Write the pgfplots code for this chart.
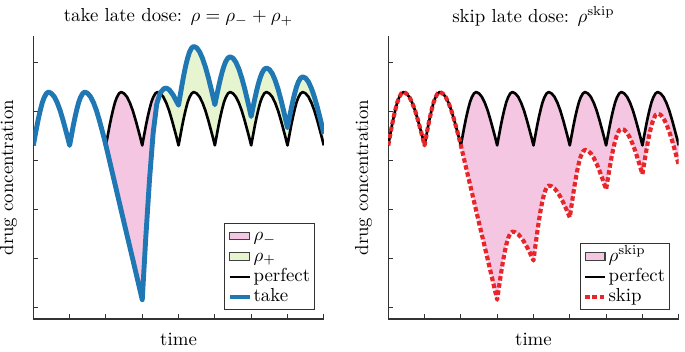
\documentclass[border=0pt]{standalone}
\usepackage{pgfplots}
\usepackage{pgfplotstable}
\pgfplotsset{compat=1.18}
\usepgfplotslibrary{fillbetween}
\definecolor{pinkc}{HTML}{F5C6E2}
\definecolor{greenc}{HTML}{E6F5CF}
\definecolor{bluec}{HTML}{1F77B4}
\definecolor{redc}{HTML}{E8262A}

\pgfplotstableread{
x y
0.00 4.30
0.05 4.50
0.10 4.70
0.15 4.88
0.20 5.04
0.25 5.18
0.30 5.28
0.36 5.36
0.42 5.39
0.50 5.36
0.58 5.29
0.66 5.17
0.74 5.01
0.82 4.81
0.90 4.59
0.95 4.45
1.00 4.30
1.05 4.50
1.10 4.70
1.15 4.88
1.20 5.04
1.25 5.18
1.30 5.28
1.36 5.36
1.42 5.39
1.50 5.36
1.58 5.29
1.66 5.17
1.74 5.01
1.82 4.81
1.90 4.59
1.95 4.45
2.00 4.30
2.05 4.50
2.10 4.70
2.15 4.88
2.20 5.04
2.25 5.18
2.30 5.28
2.36 5.36
2.42 5.39
2.50 5.36
2.58 5.29
2.66 5.17
2.74 5.01
2.82 4.81
2.90 4.59
2.95 4.45
3.00 4.30
3.05 4.50
3.10 4.70
3.15 4.88
3.20 5.04
3.25 5.18
3.30 5.28
3.36 5.36
3.42 5.39
3.50 5.36
3.58 5.29
3.66 5.17
3.74 5.01
3.82 4.81
3.90 4.59
3.95 4.45
4.00 4.30
4.05 4.50
4.10 4.70
4.15 4.88
4.20 5.04
4.25 5.18
4.30 5.28
4.36 5.36
4.42 5.39
4.50 5.36
4.58 5.29
4.66 5.17
4.74 5.01
4.82 4.81
4.90 4.59
4.95 4.45
5.00 4.30
5.05 4.50
5.10 4.70
5.15 4.88
5.20 5.04
5.25 5.18
5.30 5.28
5.36 5.36
5.42 5.39
5.50 5.36
5.58 5.29
5.66 5.17
5.74 5.01
5.82 4.81
5.90 4.59
5.95 4.45
6.00 4.30
6.05 4.50
6.10 4.70
6.15 4.88
6.20 5.04
6.25 5.18
6.30 5.28
6.36 5.36
6.42 5.39
6.50 5.36
6.58 5.29
6.66 5.17
6.74 5.01
6.82 4.81
6.90 4.59
6.95 4.45
7.00 4.30
7.05 4.50
7.10 4.70
7.15 4.88
7.20 5.04
7.25 5.18
7.30 5.28
7.36 5.36
7.42 5.39
7.50 5.36
7.58 5.29
7.66 5.17
7.74 5.01
7.82 4.81
7.90 4.59
7.95 4.45
8.00 4.30
}\perfect

\pgfplotstableread{
x y
0.00 4.30
0.05 4.50
0.10 4.70
0.15 4.88
0.20 5.04
0.25 5.18
0.30 5.28
0.36 5.36
0.42 5.39
0.50 5.36
0.58 5.29
0.66 5.17
0.74 5.01
0.82 4.81
0.90 4.59
0.95 4.45
1.00 4.30
1.05 4.50
1.10 4.70
1.15 4.88
1.20 5.04
1.25 5.18
1.30 5.28
1.36 5.36
1.42 5.39
1.50 5.36
1.58 5.29
1.66 5.17
1.74 5.01
1.82 4.81
1.90 4.59
1.95 4.45
2.00 4.30
2.25 3.51
2.50 2.72
2.75 1.94
3.00 1.15
3.10 2.45
3.20 3.60
3.30 4.55
3.40 5.15
3.50 5.38
3.60 5.46
3.67 5.47
3.75 5.43
3.85 5.33
3.95 5.19
4.00 5.12
4.05 5.343
4.10 5.558
4.15 5.758
4.20 5.936
4.25 6.085
4.30 6.201
4.36 6.290
4.42 6.32
4.50 6.292
4.58 6.210
4.66 6.077
4.74 5.900
4.82 5.687
4.90 5.448
4.95 5.291
5.00 5.13
5.05 5.312
5.10 5.488
5.15 5.651
5.20 5.796
5.25 5.918
5.30 6.013
5.36 6.085
5.42 6.11
5.50 6.081
5.58 5.997
5.66 5.861
5.74 5.680
5.82 5.461
5.90 5.216
5.95 5.055
6.00 4.89
6.05 5.074
6.10 5.252
6.15 5.417
6.20 5.563
6.25 5.686
6.30 5.782
6.36 5.855
6.42 5.88
6.50 5.851
6.58 5.767
6.66 5.631
6.74 5.450
6.82 5.231
6.90 4.986
6.95 4.825
7.00 4.66
7.05 4.853
7.10 5.040
7.15 5.213
7.20 5.367
7.25 5.497
7.30 5.597
7.36 5.674
7.42 5.70
7.50 5.673
7.58 5.593
7.66 5.463
7.74 5.291
7.82 5.083
7.90 4.850
7.95 4.697
8.00 4.54
}\take

\pgfplotstableread{
x y
0.00 4.30
0.05 4.50
0.10 4.70
0.15 4.88
0.20 5.04
0.25 5.18
0.30 5.28
0.36 5.36
0.42 5.39
0.50 5.36
0.58 5.29
0.66 5.17
0.74 5.01
0.82 4.81
0.90 4.59
0.95 4.45
1.00 4.30
1.05 4.50
1.10 4.70
1.15 4.88
1.20 5.04
1.25 5.18
1.30 5.28
1.36 5.36
1.42 5.39
1.50 5.36
1.58 5.29
1.66 5.17
1.74 5.01
1.82 4.81
1.90 4.59
1.95 4.45
2.00 4.30
2.25 3.51
2.50 2.72
2.75 1.94
3.00 1.15
3.05 1.408
3.10 1.658
3.15 1.889
3.20 2.095
3.25 2.268
3.30 2.402
3.36 2.505
3.42 2.54
3.50 2.526
3.58 2.485
3.66 2.420
3.74 2.332
3.82 2.226
3.90 2.108
3.95 2.030
4.00 1.95
4.05 2.234
4.10 2.509
4.15 2.764
4.20 2.991
4.25 3.181
4.30 3.329
4.36 3.442
4.42 3.48
4.50 3.465
4.58 3.420
4.66 3.347
4.74 3.251
4.82 3.134
4.90 3.004
4.95 2.918
5.00 2.83
5.05 3.087
5.10 3.334
5.15 3.564
5.20 3.769
5.25 3.940
5.30 4.073
5.36 4.175
5.42 4.21
5.50 4.191
5.58 4.135
5.66 4.045
5.74 3.924
5.82 3.779
5.90 3.617
5.95 3.510
6.00 3.40
6.05 3.631
6.10 3.853
6.15 4.060
6.20 4.243
6.25 4.397
6.30 4.517
6.36 4.609
6.42 4.64
6.50 4.618
6.58 4.554
6.66 4.450
6.74 4.312
6.82 4.146
6.90 3.959
6.95 3.836
7.00 3.71
7.05 3.941
7.10 4.163
7.15 4.370
7.20 4.553
7.25 4.707
7.30 4.827
7.36 4.919
7.42 4.95
7.50 4.925
7.58 4.853
7.66 4.736
7.74 4.580
7.82 4.392
7.90 4.181
7.95 4.042
8.00 3.90
}\skip

\pgfplotsset{
  every axis title shift=0pt,
  panel/.style={
    scale only axis,
    width=154.2pt, height=150pt,
    xmin=0, xmax=8, ymin=0.757, ymax=6.526,
    axis x line*=bottom, axis y line*=left,
    axis line style={black!80, line width=0.6pt},
    xtick={0,...,8}, ytick={1,...,6},
    xticklabels={}, yticklabels={},
    tick style={black!80, line width=0.5pt},
    tick align=inside, major tick length=2.5pt,
    title style={yshift=2pt},
    xlabel={time}, ylabel={drug concentration},
    xlabel style={at={(axis description cs:0.5,-0.025)}, anchor=north},
    ylabel style={at={(axis description cs:-0.055,0.5)}, anchor=south, inner sep=0pt},
    legend style={at={(0.97,0.03)}, anchor=south east, draw=black!80,
      line width=0.6pt, inner sep=1.5pt, row sep=0pt, font=\normalsize,
      nodes={inner sep=0.8pt, text height=6.9pt, text depth=2.2pt}},
    legend cell align=left,
    legend image code/.code={\draw[#1] (0pt,0pt) -- (10.5pt,0pt);},
  }
}

\begin{document}
\begin{tikzpicture}
\begin{axis}[panel, title={take late dose: $\rho = \rho_- + \rho_+$}]
\addlegendimage{legend image code/.code={\draw[draw=black!75,fill=pinkc,line width=0.6pt] (0pt,-1.8pt) rectangle (10.5pt,2.2pt);}}
\addlegendentry{$\rho_-$}
\addlegendimage{legend image code/.code={\draw[draw=black!75,fill=greenc,line width=0.6pt] (0pt,-1.8pt) rectangle (10.5pt,2.2pt);}}
\addlegendentry{$\rho_+$}
\addlegendimage{black, line width=1.4pt}
\addlegendentry{perfect}
\addlegendimage{bluec, line width=2.6pt}
\addlegendentry{take}
\addplot[name path=perfA, draw=none, forget plot] table {\perfect};
\addplot[name path=takeA, draw=none, forget plot] table {\take};
\addplot[pinkc, forget plot] fill between[of=perfA and takeA, soft clip={domain=2:3.47}];
\addplot[greenc, forget plot] fill between[of=perfA and takeA, soft clip={domain=3.47:8}];
\addplot[black, line width=1.4pt, line join=round, forget plot] table {\perfect};
\addplot[bluec, line width=2.6pt, line join=round, forget plot] table {\take};
\end{axis}
\begin{axis}[panel, at={(188.4pt,0pt)}, title={skip late dose: $\rho^{\mathrm{skip}}$}]
\addlegendimage{legend image code/.code={\draw[draw=black!75,fill=pinkc,line width=0.6pt] (0pt,-1.8pt) rectangle (10.5pt,2.2pt);}}
\addlegendentry{$\rho^{\mathrm{skip}}$}
\addlegendimage{black, line width=1.4pt}
\addlegendentry{perfect}
\addlegendimage{redc, line width=2.2pt, dash pattern=on 2.4pt off 1.4pt}
\addlegendentry{skip}
\addplot[name path=perfB, draw=none, forget plot] table {\perfect};
\addplot[name path=skipB, draw=none, forget plot] table {\skip};
\addplot[pinkc, forget plot] fill between[of=perfB and skipB, soft clip={domain=2:8}];
\addplot[black, line width=1.4pt, line join=round, forget plot] table {\perfect};
\addplot[redc, line width=2.2pt, line join=round, dash pattern=on 2.4pt off 1.4pt, forget plot] table {\skip};
\end{axis}
\end{tikzpicture}
\end{document}
